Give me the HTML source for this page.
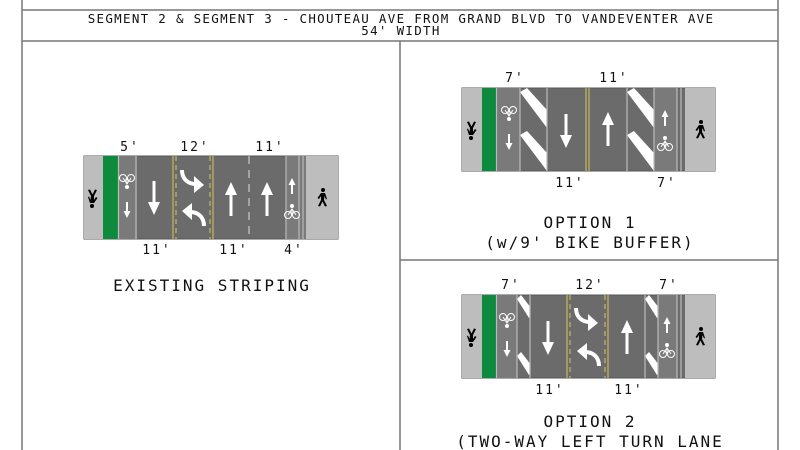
<!DOCTYPE html>
<html><head><meta charset="utf-8"><style>
html,body{margin:0;padding:0;background:#fff;width:800px;height:450px;overflow:hidden}
svg{display:block}
text{font-family:"DejaVu Sans Mono","Liberation Mono",monospace;fill:#111}
</style></head><body>
<svg width="800" height="450" viewBox="0 0 800 450" xmlns="http://www.w3.org/2000/svg">
<defs>
<g id="dn"><rect x="-1.5" y="-17" width="3" height="23" fill="#fff"/><polygon points="-6,4 6,4 0,17" fill="#fff"/></g>
<g id="sdn"><rect x="-1" y="-6" width="2" height="10" fill="#fff"/><polygon points="-3.5,3 3.5,3 0,10" fill="#fff"/></g>
<g id="rt"><path d="M-10,-10 C-10,0 -3,4 4,4" stroke="#fff" stroke-width="4" fill="none"/><polygon points="2,-4 12,5 2,13" fill="#fff"/></g>
<g id="bike" fill="none" stroke="#fff" stroke-width="1"><circle cx="-4" cy="5" r="3.5"/><circle cx="4" cy="5" r="3.5"/><path d="M-4,5 L0,-1 L4,5 M0,-1 L0,5"/><circle cx="0" cy="-4" r="1.5" fill="#fff"/></g>
<g id="ped" fill="#000"><circle cx="1" cy="-8" r="2"/><path d="M-1,-5 L3,-5 L5,1 L4,1.5 L2.5,-2 L2,2 L5,8 L3,8.5 L0.5,3.5 L-2,8.5 L-4,8 L-1,2 L-1,-2 L-3,1 L-4.5,0 Z"/></g>
</defs>

<!-- frame -->
<g stroke="#777" stroke-width="1.5" fill="none">
<line x1="22" y1="0" x2="22" y2="450"/><line x1="778" y1="0" x2="778" y2="450"/>
<line x1="22" y1="10" x2="778" y2="10"/><line x1="22" y1="41" x2="778" y2="41"/>
<line x1="400" y1="41" x2="400" y2="450"/><line x1="400" y1="260" x2="778" y2="260"/>
</g>
<text x="401" y="23" font-size="12.5" text-anchor="middle" letter-spacing="1.3">SEGMENT 2 &amp; SEGMENT 3 - CHOUTEAU AVE FROM GRAND BLVD TO VANDEVENTER AVE</text>
<text x="401" y="35" font-size="12.5" text-anchor="middle" letter-spacing="1.3">54' WIDTH</text>

<!-- EXISTING -->
<g>
<rect x="84" y="156" width="254" height="83" fill="#6b6b6b" stroke="#555" stroke-width="1"/>
<rect x="84" y="156" width="19" height="83" fill="#bdbdbd"/>
<rect x="103" y="156" width="15" height="83" fill="#0e8a3e"/>
<rect x="118" y="156" width="19" height="83" fill="#7a7a7a"/>
<rect x="286" y="156" width="20" height="83" fill="#7a7a7a"/>
<rect x="306" y="156" width="32" height="83" fill="#bdbdbd"/>
<g stroke="#bbb" stroke-width="1.2"><line x1="118.5" y1="156" x2="118.5" y2="239"/><line x1="136" y1="156" x2="136" y2="239"/><line x1="286" y1="156" x2="286" y2="239"/><line x1="299" y1="156" x2="299" y2="239"/><line x1="303" y1="156" x2="303" y2="239"/></g>
<g stroke="#d8c65a" stroke-width="1"><line x1="173" y1="156" x2="173" y2="239"/><line x1="213" y1="156" x2="213" y2="239"/><line x1="176" y1="156" x2="176" y2="239" stroke-dasharray="5,4"/><line x1="210" y1="156" x2="210" y2="239" stroke-dasharray="5,4"/></g>
<line x1="249" y1="156" x2="249" y2="239" stroke="#ddd" stroke-width="1" stroke-dasharray="8,6"/>
<use href="#ped" transform="translate(93,198) rotate(180)"/>
<use href="#bike" transform="translate(127,183) rotate(180)"/>
<use href="#sdn" x="127" y="208"/>
<use href="#dn" x="154" y="198"/>
<use href="#rt" x="192" y="180"/>
<use href="#rt" transform="translate(194,216) rotate(180)"/>
<use href="#dn" transform="translate(231,199) rotate(180)"/>
<use href="#dn" transform="translate(267,199) rotate(180)"/>
<use href="#sdn" transform="translate(292,188) rotate(180)"/>
<use href="#bike" x="292" y="210"/>
<use href="#ped" x="322" y="198"/>
</g>
<g font-size="13" text-anchor="middle" letter-spacing="2">
<text x="130" y="151">5'</text><text x="195" y="151">12'</text><text x="270" y="151">11'</text>
<text x="157" y="254">11'</text><text x="234" y="254">11'</text><text x="294" y="254">4'</text>
</g>
<text x="212" y="291" font-size="16" text-anchor="middle" letter-spacing="2">EXISTING STRIPING</text>

<!-- OPTION 1 -->
<defs><clipPath id="c1a"><rect x="520" y="88" width="27" height="83"/></clipPath><clipPath id="c1b"><rect x="627" y="88" width="27" height="83"/></clipPath></defs>
<g>
<rect x="462" y="88" width="253" height="83" fill="#6b6b6b" stroke="#555"/>
<rect x="462" y="88" width="20" height="83" fill="#bdbdbd"/>
<rect x="482" y="88" width="14" height="83" fill="#0e8a3e"/>
<rect x="496" y="88" width="24" height="83" fill="#7a7a7a"/>
<rect x="654" y="88" width="23" height="83" fill="#7a7a7a"/>
<rect x="685" y="88" width="30" height="83" fill="#bdbdbd"/>
<g clip-path="url(#c1a)" fill="#fff"><polygon points="520,92 527,88 557,121 547,128"/><polygon points="520,135 527,131 557,164 547,171"/></g>
<g clip-path="url(#c1b)" fill="#fff"><polygon points="627,92 634,88 664,121 654,128"/><polygon points="627,135 634,131 664,164 654,171"/></g>
<g stroke="#bbb" stroke-width="1.2"><line x1="496.5" y1="88" x2="496.5" y2="171"/><line x1="520" y1="88" x2="520" y2="171"/><line x1="547" y1="88" x2="547" y2="171"/><line x1="627" y1="88" x2="627" y2="171"/><line x1="654" y1="88" x2="654" y2="171"/><line x1="677" y1="88" x2="677" y2="171"/><line x1="681" y1="88" x2="681" y2="171"/></g>
<g stroke="#d8c65a" stroke-width="1"><line x1="586" y1="88" x2="586" y2="171"/><line x1="589" y1="88" x2="589" y2="171"/></g>
<use href="#ped" transform="translate(472,130) rotate(180)"/>
<use href="#bike" transform="translate(509,115) rotate(180)"/>
<use href="#sdn" x="509" y="140"/>
<use href="#dn" x="566" y="131"/>
<use href="#dn" transform="translate(608,129) rotate(180)"/>
<use href="#sdn" transform="translate(665,120) rotate(180)"/>
<use href="#bike" x="665" y="142"/>
<use href="#ped" x="700" y="130"/>
</g>
<g font-size="13" text-anchor="middle" letter-spacing="2">
<text x="515" y="82">7'</text><text x="614" y="82">11'</text>
<text x="570" y="187">11'</text><text x="667" y="187">7'</text>
</g>
<text x="590" y="228" font-size="16" text-anchor="middle" letter-spacing="2">OPTION 1</text>
<text x="590" y="248" font-size="16" text-anchor="middle" letter-spacing="2">(w/9' BIKE BUFFER)</text>

<!-- OPTION 2 -->
<defs><clipPath id="c2a"><rect x="517" y="295" width="13" height="83"/></clipPath><clipPath id="c2b"><rect x="645" y="295" width="13" height="83"/></clipPath></defs>
<g>
<rect x="462" y="295" width="253" height="83" fill="#6b6b6b" stroke="#555"/>
<rect x="462" y="295" width="20" height="83" fill="#bdbdbd"/>
<rect x="482" y="295" width="14" height="83" fill="#0e8a3e"/>
<rect x="496" y="295" width="21" height="83" fill="#7a7a7a"/>
<rect x="658" y="295" width="19" height="83" fill="#7a7a7a"/>
<rect x="685" y="295" width="30" height="83" fill="#bdbdbd"/>
<g clip-path="url(#c2a)" fill="#fff"><polygon points="517,299 521,295 535,313 529,318"/><polygon points="517,356 521,352 535,370 529,375"/></g>
<g clip-path="url(#c2b)" fill="#fff"><polygon points="645,299 649,295 663,313 657,318"/><polygon points="645,356 649,352 663,370 657,375"/></g>
<g stroke="#bbb" stroke-width="1.2"><line x1="496.5" y1="295" x2="496.5" y2="378"/><line x1="517" y1="295" x2="517" y2="378"/><line x1="530" y1="295" x2="530" y2="378"/><line x1="645" y1="295" x2="645" y2="378"/><line x1="658" y1="295" x2="658" y2="378"/><line x1="677" y1="295" x2="677" y2="378"/><line x1="681" y1="295" x2="681" y2="378"/></g>
<g stroke="#d8c65a" stroke-width="1"><line x1="567" y1="295" x2="567" y2="378"/><line x1="608" y1="295" x2="608" y2="378"/><line x1="570" y1="295" x2="570" y2="378" stroke-dasharray="5,4"/><line x1="605" y1="295" x2="605" y2="378" stroke-dasharray="5,4"/></g>
<use href="#ped" transform="translate(472,337) rotate(180)"/>
<use href="#bike" transform="translate(507,322) rotate(180)"/>
<use href="#sdn" x="507" y="347"/>
<use href="#dn" x="548" y="338"/>
<use href="#rt" x="586" y="318"/>
<use href="#rt" transform="translate(589,356) rotate(180)"/>
<use href="#dn" transform="translate(627,337) rotate(180)"/>
<use href="#sdn" transform="translate(667,327) rotate(180)"/>
<use href="#bike" x="667" y="349"/>
<use href="#ped" x="700" y="337"/>
</g>
<g font-size="13" text-anchor="middle" letter-spacing="2">
<text x="511" y="289">7'</text><text x="590" y="289">12'</text><text x="669" y="289">7'</text>
<text x="550" y="394">11'</text><text x="629" y="394">11'</text>
</g>
<text x="590" y="427" font-size="16" text-anchor="middle" letter-spacing="2">OPTION 2</text>
<text x="590" y="447" font-size="16" text-anchor="middle" letter-spacing="2">(TWO-WAY LEFT TURN LANE</text>
</svg>
</body></html>
